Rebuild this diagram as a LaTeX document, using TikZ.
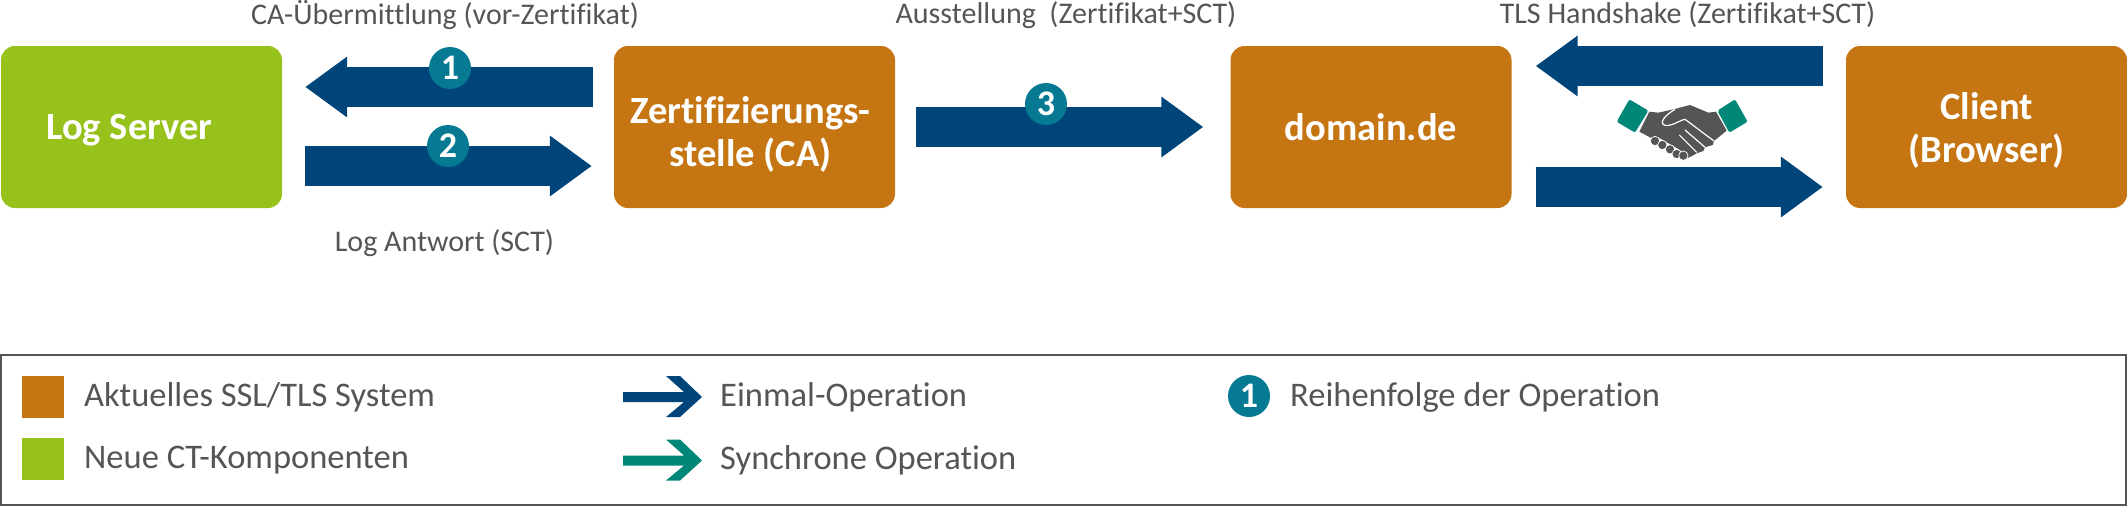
\documentclass[tikz,border=0pt]{standalone}
\usepackage{fontspec}
\setmainfont[Ligatures=CommonOff]{Carlito}
\definecolor{ssl-orange}{RGB}{197,117,18}
\definecolor{ct-green}{RGB}{151,194,28}
\definecolor{once-blue}{RGB}{0,69,122}
\definecolor{sync-teal}{RGB}{0,135,120}
\definecolor{badge-teal}{RGB}{5,122,146}
\definecolor{label-gray}{RGB}{85,85,85}
\usetikzlibrary{arrows.meta}

\begin{document}
\begin{tikzpicture}
[
  x=1pt,y=-1pt,
  box/.style={rectangle,rounded corners=14pt,inner sep=0pt,minimum width=281pt,minimum height=162pt,text=white,align=center,font=\fontsize{38.5}{43}\selectfont\bfseries},
  flow/.style={draw=once-blue,line width=40pt,-{Triangle[length=42pt,width=58pt]}},
  badge/.style={circle,fill=badge-teal,inner sep=0pt,minimum size=42pt,text=white,font=\fontsize{36}{36}\selectfont\bfseries},
  caption/.style={text=label-gray,inner sep=0pt,font=\fontsize{30}{35}\selectfont},
  legendtext/.style={text=label-gray,inner sep=0pt,anchor=west,font=\fontsize{34.5}{40}\selectfont},
  swatch/.style={rectangle,inner sep=0pt,minimum size=42pt},
]
\useasboundingbox (0,0) rectangle (2127,506);

\node[box,fill=ct-green] (log) at (141.5,127){\hspace*{-24pt}\rule{0pt}{32pt}Log Server};
\node[box,fill=ssl-orange] (ca) at (754.5,127){\hspace*{-8pt}\rule{0pt}{42pt}Zertifizierungs-\\\hspace*{-8pt}stelle (CA)};
\node[box,fill=ssl-orange] (domain) at (1371,127){domain.de};
\node[box,fill=ssl-orange] (client) at (1986.5,127){\rule{0pt}{33pt}Client\\(Browser)};

\draw[flow,shorten <=21pt,shorten >=23pt] ([yshift=40pt]ca.west) -- ([yshift=40pt]log.east);
\draw[flow,shorten <=23pt,shorten >=22pt] ([yshift=-39pt]log.east) -- ([yshift=-39pt]ca.west);
\draw[flow,shorten <=21pt,shorten >=27pt] (ca.east) -- (domain.west);
\draw[flow,shorten <=23pt,shorten >=24pt] ([yshift=61pt]client.west) -- ([yshift=61pt]domain.east);
\draw[flow,shorten <=24pt,shorten >=23pt] ([yshift=-60pt]domain.east) -- ([yshift=-60pt]client.west);

\node[badge] (one) at (450,68){1};
\node[badge] (two) at (448,146){2};
\node[badge] (three) at (1046,104){3};

\node[caption] (submit) at (445,15){CA-Übermittlung (vor-Zertifikat)};
\node[caption] (answer) at (444.5,243){Log Antwort (SCT)};
\node[caption] (issue) at (1066,15){Ausstellung\ \ (Zertifikat+SCT)};
\node[caption] (tls) at (1687.5,15){TLS Handshake (Zertifikat+SCT)};

% handshake
\begin{scope}[shift={(1580,70)},x=0.3333pt,y=-0.3333pt]
\fill[sync-teal,rounded corners=2pt] (148,88) -- (205,122) -- (165,188) -- (110,155) -- cycle;
\fill[sync-teal,rounded corners=2pt] (412,122) -- (465,88) -- (503,155) -- (448,188) -- cycle;
\fill[label-gray] (208,125) -- (235,128) -- (280,118) -- (330,105) -- (385,128) -- (408,125) -- (440,182) -- (402,213) -- (398,225) -- (375,232) -- (370,243) -- (350,250) -- (340,256) -- (322,265) -- (300,240) -- (240,205) -- (215,205) -- (178,185) -- cycle;
\foreach \x/\y in {225/213,247/225,270/238,290/252,310/257}
    \fill[label-gray,draw=white,line width=0.7pt] (\x,\y) circle (14);
\draw[white,line width=1.2pt] (285,118) .. controls (255,135) and (235,160) .. (255,166) .. controls (275,170) and (300,150) .. (315,148) -- (402,213);
\draw[white,line width=1.2pt] (315,180) -- (375,232);
\draw[white,line width=1.2pt] (298,195) -- (350,247);
\end{scope}

\node[draw=label-gray,line width=2pt,rectangle,inner sep=0pt,minimum width=2125pt,minimum height=150pt] (legend) at (1063.5,430){};

\node[swatch,fill=ssl-orange] (oldsys) at (43,397){};
\node[swatch,fill=ct-green] (newsys) at (43,459){};
\node[legendtext] (oldtext) at (84,397){Aktuelles SSL/TLS System};
\node[legendtext] (newtext) at (84,460){Neue CT-Komponenten};

\foreach \y/\col in {397/once-blue,460.5/sync-teal}
    \fill[\col,shift={(0,\y)}] (623,-5) -- (684,-5) -- (666,-21) -- (680,-21) -- (702,0) -- (680,20) -- (666,20) -- (684,5) -- (623,5) -- cycle;
\node[legendtext] (oncetext) at (720,397){Einmal-Operation};
\node[legendtext] (synctext) at (720,460){Synchrone Operation};

\node[badge] (orderbadge) at (1249,396){1};
\node[legendtext] (ordertext) at (1290,397){Reihenfolge der Operation};
\end{tikzpicture}
\end{document}
